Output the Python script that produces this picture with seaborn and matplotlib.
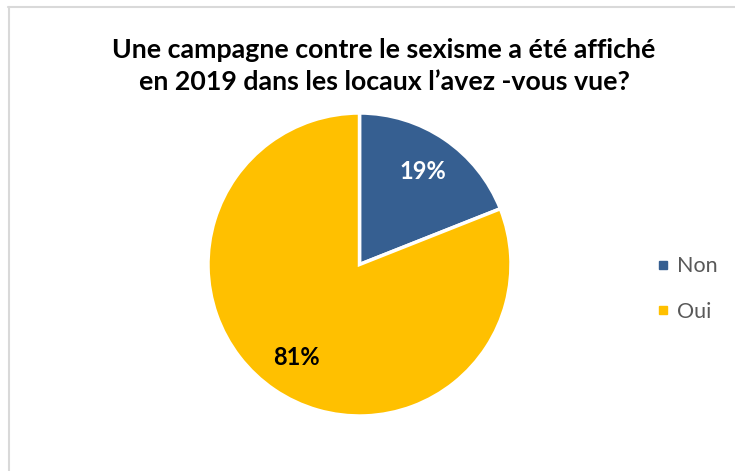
import matplotlib
matplotlib.use("Agg")
import matplotlib.pyplot as plt
from matplotlib.lines import Line2D
import seaborn as sns

# Survey answers
categories = ["Non", "Oui"]
values = [19, 81]
colors = ["#365F91", "#FFC000"]
title = "Une campagne contre le sexisme a été affiché\nen 2019 dans les locaux l’avez -vous vue?"

sns.set_theme(style="white")
plt.rcParams["font.family"] = ["Lato", "DejaVu Sans"]

fig = plt.figure(figsize=(7.35, 4.71), dpi=100)
fig.patch.set_facecolor("white")

# Chart area frame (top and left edges visible)
frame_color = "#D9D9D9"
fig.add_artist(Line2D([8 / 735, 1.0], [1 - 7 / 471, 1 - 7 / 471],
                      transform=fig.transFigure, color=frame_color, lw=1.5))
fig.add_artist(Line2D([8.5 / 735, 8.5 / 735], [0.0, 1 - 7 / 471],
                      transform=fig.transFigure, color=frame_color, lw=1.5))

fig.text(384 / 735, 1 - 66 / 471, title, ha="center", va="center",
         fontsize=19.3, fontweight="bold", color="black", linespacing=1.45)

# Pie axes: centre (359.5, 264.5) px, radius 151.5 px
cx, cy, r = 359.5, 264.5, 151.5
ax = fig.add_axes([(cx - r) / 735, (471 - cy - r) / 471, 2 * r / 735, 2 * r / 471])
wedges, _, autotexts = ax.pie(
    values, colors=colors, startangle=90, counterclock=False,
    autopct="%d%%", pctdistance=0.74,
    wedgeprops=dict(edgecolor="white", linewidth=2.5),
    textprops=dict(fontsize=17, fontweight="bold"),
)
autotexts[0].set_color("white")
autotexts[1].set_color("black")
ax.set_xlim(-1.0, 1.0)
ax.set_ylim(-1.0, 1.0)
ax.set_aspect("equal")
ax.axis("off")

handles = [Line2D([0], [0], marker="s", linestyle="none", markersize=6,
                  markerfacecolor=c, markeredgecolor=c) for c in colors]
leg = fig.legend(handles, categories, loc="center left",
                 bbox_to_anchor=(634 / 735, 1 - 289 / 471), frameon=False,
                 fontsize=15.5, handletextpad=0.2, labelspacing=1.2,
                 handlelength=0.9)
for t in leg.get_texts():
    t.set_color("#595959")

fig.savefig("out.png", dpi=100, facecolor="white")
